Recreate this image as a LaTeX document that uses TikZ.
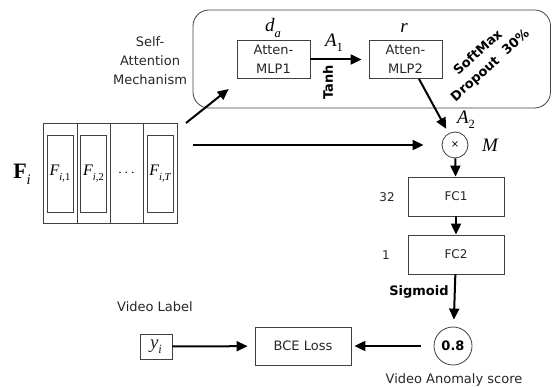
\documentclass[tikz,border=0pt]{standalone}
\usepackage{fontspec}
\newfontfamily\dv{DejaVu Sans}
\newfontfamily\tms{Liberation Serif}
\usetikzlibrary{arrows.meta,calc}
\newcommand{\mysub}[1]{\raisebox{-0.28em}{\fontsize{0.66em}{1em}\selectfont #1}}
\begin{document}
\begin{tikzpicture}[x=1pt,y=-1pt,
  arr/.style={line width=2pt,-{Triangle[length=11pt,width=10pt]}},
  lbl/.style={font=\dv\fontsize{13}{19}\selectfont,text=black!85,inner sep=0pt},
  slbl/.style={font=\dv\fontsize{12}{14}\selectfont,text=black!85,inner sep=0pt},
  blbl/.style={font=\dv\bfseries\fontsize{13}{19}\selectfont,inner sep=0pt},
  mathlbl/.style={font=\tms\itshape\fontsize{19}{21}\selectfont,inner sep=0pt},
  flbl/.style={font=\tms\itshape\fontsize{16}{18}\selectfont,inner sep=0pt},
  boxs/.style={draw=black!75,line width=0.8pt,rectangle,inner sep=0pt,align=center,
     font=\dv\fontsize{13}{19}\selectfont,text=black!85},
  thin/.style={draw=black!75,line width=0.8pt}]
\useasboundingbox (0,0) rectangle (552,387);
% attention frame
\draw[thin,rounded corners=16pt] (193,10) rectangle (550.5,108);
\node[boxs,minimum width=73pt,minimum height=38pt] (mlp1) at (273.5,59.5) {Atten-\\MLP1};
\node[boxs,minimum width=73pt,minimum height=38pt] (mlp2) at (405.5,59.5) {Atten-\\MLP2};
\node[mathlbl] (da) at (273,28) {d\mysub{a}};
\node[mathlbl] (rl) at (404,28) {r};
\node[mathlbl] (a1) at (334,43) {A\mysub{\upshape 1}};
\node[blbl,rotate=90] (tanh) at (328,82) {Tanh};
\node[blbl,rotate=42] (soft) at (477.5,52) {SoftMax};
\node[blbl,rotate=42] (drop) at (490.5,66) {Dropout\ \ 30\%};
\node[lbl,align=center] (sam) at (150,61) {Self-\\Attention\\Mechanism};
% feature block
\draw[thin] (43,123) rectangle (177,223);
\foreach \xx in {77,110,143} \draw[thin] (\xx,123) -- (\xx,223);
\node[thin,minimum width=26pt,minimum height=77pt,inner sep=0pt] (f1) at (60,173.5) {};
\node[thin,minimum width=26pt,minimum height=77pt,inner sep=0pt] (f2) at (93.5,173.5) {};
\node[thin,minimum width=26pt,minimum height=77pt,inner sep=0pt] (fT) at (160,173.5) {};
\node[flbl] at (f1) {F\mysub{i,\upshape 1}};
\node[flbl] at (f2) {F\mysub{i,\upshape 2}};
\node[font=\fontsize{15}{18}\selectfont,inner sep=0pt] (dots) at (126.5,173.5) {$\cdots$};
\node[flbl] at (fT) {F\mysub{i,T}};
\node[font=\tms\bfseries\fontsize{22}{24}\selectfont,inner sep=0pt] (Fi) at (22,174) {F\mysub{\itshape\mdseries i}};
\coordinate (fa) at (186,123);
\coordinate (fh) at (193,145);
% multiplication
\node[thin,circle,minimum size=26pt,inner sep=0pt,font=\dv\fontsize{10}{12}\selectfont] (mult) at (455,145) {×};
\node[mathlbl] (a2) at (466,120) {A\mysub{\upshape 2}};
\node[mathlbl] (ml) at (490,145) {M};
% FC layers
\node[boxs,minimum width=96pt,minimum height=39pt,font=\dv\fontsize{12}{14}\selectfont] (fc1) at (456,196.5) {FC1};
\node[boxs,minimum width=96pt,minimum height=39pt,font=\dv\fontsize{12}{14}\selectfont] (fc2) at (456,254.5) {FC2};
\node[slbl] (n32) at (387,197) {32};
\node[slbl] (n1) at (386,255) {1};
\node[blbl] (sig) at (419,292) {Sigmoid};
\node[thin,circle,minimum size=38pt,inner sep=0pt,font=\dv\bfseries\fontsize{13}{15}\selectfont] (score) at (453,346) {0.8};
\node[lbl] (vas) at (454,380) {Video Anomaly score};
\node[boxs,minimum width=96pt,minimum height=38pt] (bce) at (303,346) {BCE Loss};
\node[boxs,minimum width=32pt,minimum height=25pt,font=\tms\itshape\fontsize{19}{21}\selectfont] (yi) at (156,346.5) {y\mysub{i}};
\node[lbl] (vl) at (155,307) {Video Label};
% connectors
\draw[arr,shorten >=5pt] (fa) -- ($(mlp1.south west)+(-4,7)$);
\draw[arr,shorten >=18pt] (fh) -- (mult.west);
\draw[arr,shorten >=7pt] (mlp1.east) -- (mlp2.west);
\draw[arr,shorten >=5pt] ($(mlp2.south)+(13.5,0)$) -- (mult);
\draw[arr] (mult) -- (fc1);
\draw[arr] (fc1) -- (fc2);
\draw[arr,shorten >=7pt] (fc2) -- (score);
\draw[arr,shorten >=3pt,shorten <=13pt] (score.west) -- (bce.east);
\draw[arr,shorten >=7pt] (yi) -- (bce);
\end{tikzpicture}
\end{document}
